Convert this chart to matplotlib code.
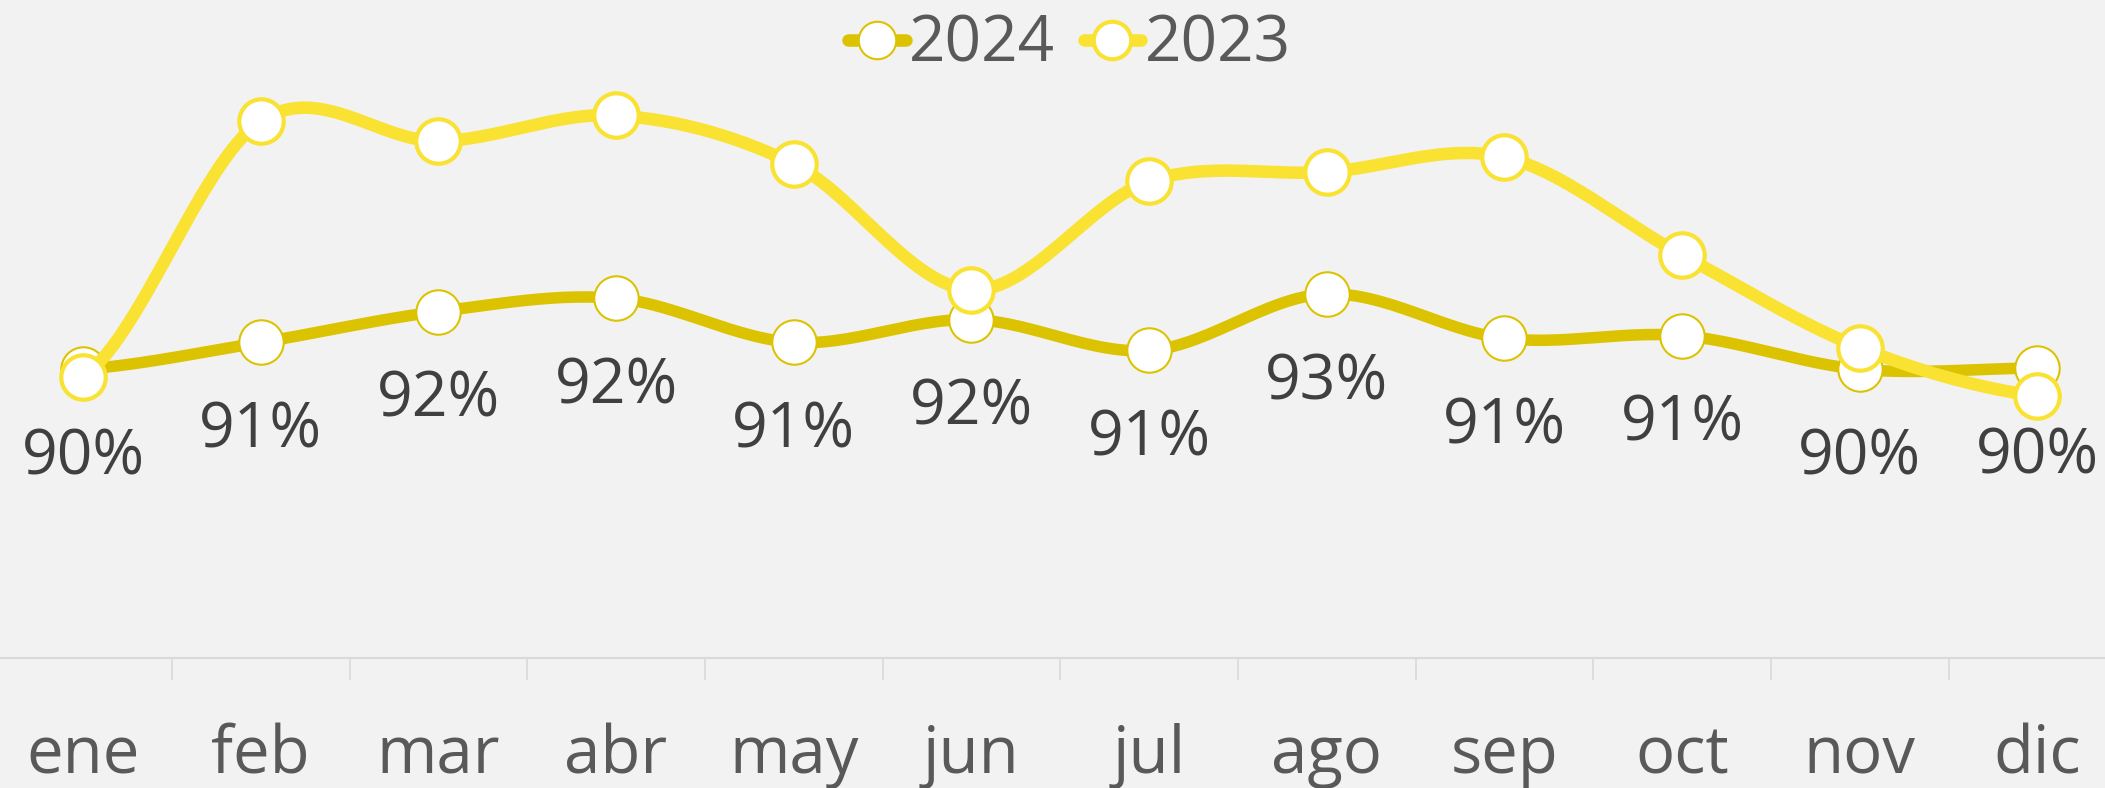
import numpy as np
import matplotlib
matplotlib.use('Agg')
from matplotlib import pyplot as plt
from matplotlib.lines import Line2D

#----------------------------------
# Data
months = ['ene', 'feb', 'mar', 'abr', 'may', 'jun', 'jul', 'ago', 'sep', 'oct', 'nov', 'dic']
v2024 = [90.13, 91.00, 92.00, 92.43, 91.00, 91.74, 90.74, 92.57, 91.13, 91.22, 90.13, 90.17]
v2023 = [89.87, 98.17, 97.52, 98.35, 96.78, 92.70, 96.22, 96.52, 97.00, 93.83, 90.83, 89.26]
labels2024 = ['90%', '91%', '92%', '92%', '91%', '92%', '91%', '93%', '91%', '91%', '90%', '90%']

c2024 = '#DCC301'
c2023 = '#F9E232'
bg = '#F2F2F2'

plt.rcParams['font.family'] = ['Open Sans', 'DejaVu Sans']


def smooth(y, n=30):
    # catmull-rom through the points, for the smoothed line look
    y = np.asarray(y, dtype=float)
    p = np.concatenate([[y[0]], y, [y[-1]]])
    xs, ys = [], []
    for i in range(len(y) - 1):
        p0, p1, p2, p3 = p[i], p[i + 1], p[i + 2], p[i + 3]
        t = np.linspace(0, 1, n, endpoint=False)
        yy = 0.5 * ((2 * p1) + (-p0 + p2) * t + (2 * p0 - 5 * p1 + 4 * p2 - p3) * t ** 2
                    + (-p0 + 3 * p1 - 3 * p2 + p3) * t ** 3)
        xs.append(i + t)
        ys.append(yy)
    xs.append([len(y) - 1])
    ys.append([y[-1]])
    return np.concatenate(xs), np.concatenate(ys)


fig = plt.figure(figsize=(21.05, 7.88), dpi=100, facecolor=bg)
ax = fig.add_axes([0, 0.165, 1, 0.835], facecolor=bg)
x = np.arange(len(months))

#----------------------------------
# 2024 line + labels
sx, sy = smooth(v2024)
ax.plot(sx, sy, color=c2024, lw=8.3, solid_capstyle='round', zorder=2)
ax.plot(x, v2024, ls='none', marker='o', ms=32, mfc='white', mec=c2024, mew=1.5, zorder=3)
for xi, yi, lab in zip(x, v2024, labels2024):
    ax.annotate(lab, (xi, yi), xytext=(0, -64), textcoords='offset points',
                ha='center', va='center', fontsize=45, color='#404040', zorder=6)

# 2023 line
sx, sy = smooth(v2023)
ax.plot(sx, sy, color=c2023, lw=9, solid_capstyle='round', zorder=4)
ax.plot(x, v2023, ls='none', marker='o', ms=32, mfc='white', mec=c2023, mew=3, zorder=5)

#----------------------------------
# axes styling
ax.set_xlim(-0.467, 11.38)
ax.set_ylim(80.78, 102.09)
ax.set_yticks([])
ax.set_xticks(x)
ax.set_xticklabels(months, fontsize=47, color='#595959')
ax.tick_params(axis='x', length=0, pad=47)
ax.set_xticks(np.arange(0.5, 11, 1), minor=True)
ax.tick_params(axis='x', which='minor', length=16, width=1.2, color='#D9D9D9')
for s in ['top', 'left', 'right']:
    ax.spines[s].set_visible(False)
ax.spines['bottom'].set_color('#D9D9D9')
ax.spines['bottom'].set_linewidth(1.5)

#----------------------------------
# legend
handles = [Line2D([], [], color=c2024, lw=9, marker='o', ms=27, mfc='white', mec=c2024, mew=1.5,
                  solid_capstyle='round'),
           Line2D([], [], color=c2023, lw=9, marker='o', ms=27, mfc='white', mec=c2023, mew=3,
                  solid_capstyle='round')]
fig.legend(handles, ['2024', '2023'], loc='upper center', bbox_to_anchor=(0.508, 1.016), ncol=2,
           frameon=False, fontsize=46, labelcolor='#595959', handlelength=0.9,
           handletextpad=0.05, columnspacing=0.45, borderaxespad=0)

fig.savefig('out.png', dpi=100, facecolor=bg)
